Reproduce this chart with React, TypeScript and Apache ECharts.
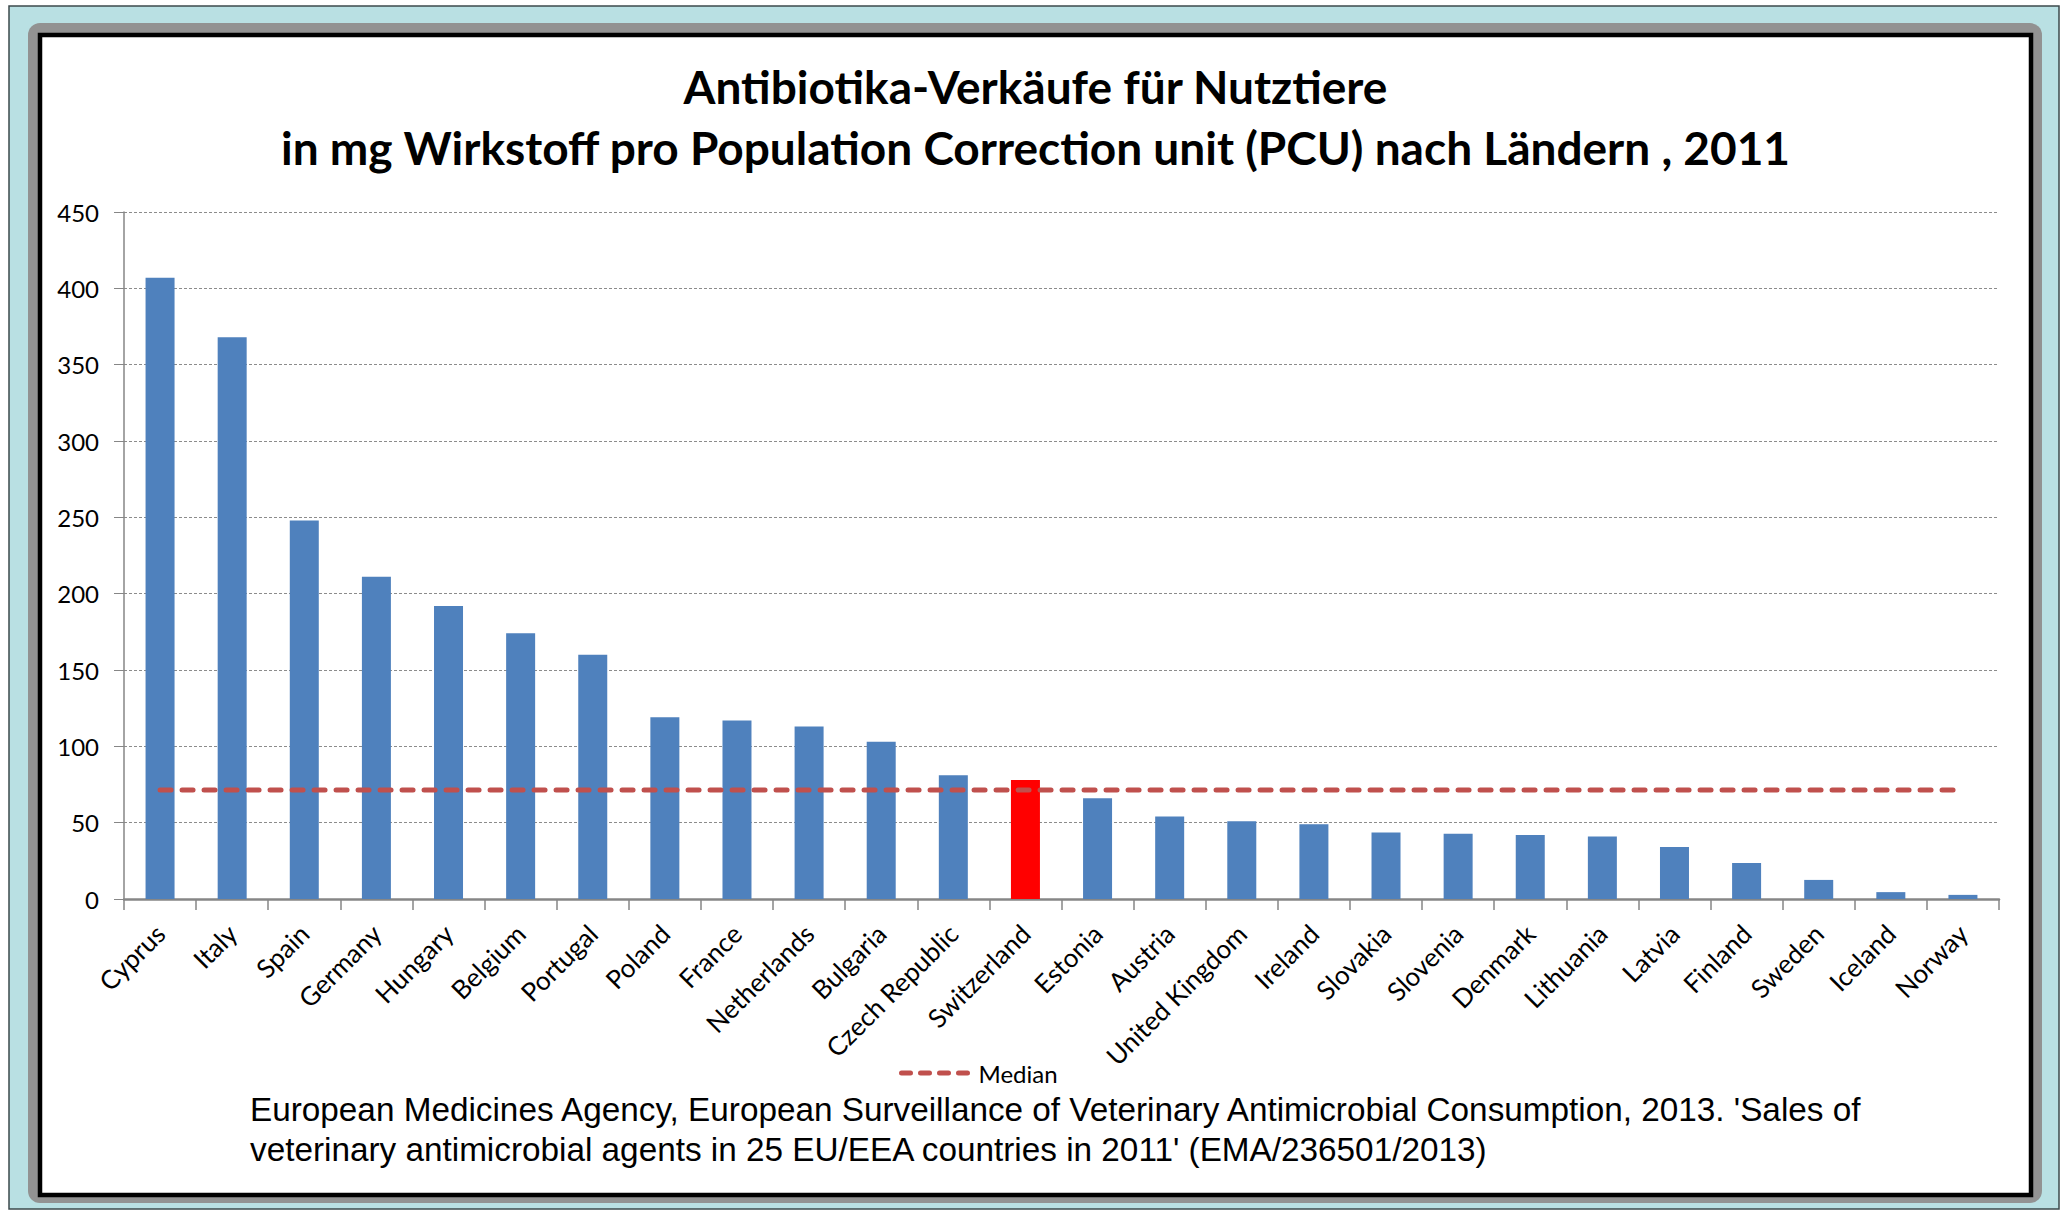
import React, { useEffect, useRef } from "react";
import * as echarts from "echarts";

const TITLE_LINE_1 = "Antibiotika-Verkäufe für Nutztiere";
const TITLE_LINE_2 = "in mg Wirkstoff pro Population Correction unit (PCU) nach Ländern , 2011";

const countries = [
  "Cyprus", "Italy", "Spain", "Germany", "Hungary", "Belgium", "Portugal",
  "Poland", "France", "Netherlands", "Bulgaria", "Czech Republic", "Switzerland",
  "Estonia", "Austria", "United Kingdom", "Ireland", "Slovakia", "Slovenia",
  "Denmark", "Lithuania", "Latvia", "Finland", "Sweden", "Iceland", "Norway",
];

const salesMgPerPcu = [
  407, 368, 248, 211, 192, 174, 160,
  119, 117, 113, 103, 81, 78,
  66, 54, 51, 49, 43.5, 42.8,
  42, 41, 34, 23.5, 12.5, 4.5, 2.7,
];

const HIGHLIGHT = "Switzerland";
const MEDIAN_LABEL = "Median";
const MEDIAN_VALUE = 71.4;
const medianLine = countries.map(() => MEDIAN_VALUE);

const yTicks = { min: 0, max: 450, interval: 50 };

const SOURCE_TEXT =
  "European Medicines Agency, European Surveillance of Veterinary Antimicrobial Consumption, 2013. 'Sales of\nveterinary antimicrobial agents in 25 EU/EEA countries in 2011' (EMA/236501/2013)";

const BLUE = "#4F81BD";
const RED = "#FF0000";
const MEDIAN_COLOR = "#C0504D";
const AXIS_GRAY = "#868686";

export default function App() {
  const ref = useRef<HTMLDivElement>(null);

  useEffect(() => {
    if (!ref.current) return;
    const chart = echarts.init(ref.current, undefined, { renderer: "svg" });

    const barData = countries.map((c, i) => ({
      value: salesMgPerPcu[i],
      itemStyle: { color: c === HIGHLIGHT ? RED : BLUE },
    }));

    const titleStyle = {
      fontFamily: "Lato",
      fontWeight: "bold",
      fontSize: 46,
      lineHeight: 48,
      color: "#000",
    };

    const option: any = {
      animation: false,
      backgroundColor: "#ffffff",
      title: [
        { text: TITLE_LINE_1, left: "center", top: 57, textStyle: titleStyle },
        { text: TITLE_LINE_2, left: "center", top: 118, textStyle: titleStyle },
      ],
      legend: {
        data: [MEDIAN_LABEL],
        left: 894,
        top: 1056,
        itemWidth: 72,
        itemHeight: 20,
        itemGap: 5,
        itemStyle: { opacity: 0, color: "rgba(0,0,0,0)", borderWidth: 0 },
        lineStyle: { color: MEDIAN_COLOR, width: 5, type: [9, 10], cap: "round" },
        textStyle: { fontFamily: "Lato", fontSize: 24, color: "#000" },
      },
      grid: { left: 124, right: 72, top: 212, bottom: 313, containLabel: false },
      xAxis: {
        type: "category",
        data: countries,
        boundaryGap: true,
        axisLine: { show: true, lineStyle: { color: AXIS_GRAY, width: 2.5 } },
        axisTick: { show: true, length: 11, alignWithLabel: false, lineStyle: { color: AXIS_GRAY, width: 1.5 } },
        axisLabel: {
          interval: 0,
          rotate: 45,
          margin: 30,
          fontFamily: "Lato",
          fontSize: 26,
          color: "#000",
        },
        splitLine: { show: false },
      },
      yAxis: {
        type: "value",
        min: yTicks.min,
        max: yTicks.max,
        interval: yTicks.interval,
        axisLine: { show: true, lineStyle: { color: AXIS_GRAY, width: 1.5 } },
        axisTick: { show: true, length: 10, lineStyle: { color: AXIS_GRAY } },
        axisLabel: { margin: 25, fontFamily: "Lato", fontSize: 24, color: "#000" },
        splitLine: { show: true, lineStyle: { color: "#8c8c8c", width: 1, type: [3, 2] } },
      },
      series: [
        {
          name: "Antibiotika",
          type: "bar",
          data: barData,
          barWidth: 29,
          z: 2,
        },
        {
          name: MEDIAN_LABEL,
          type: "line",
          data: medianLine,
          symbol: "none",
          showSymbol: false,
          lineStyle: { color: MEDIAN_COLOR, width: 5, type: [11, 11], cap: "round" },
          itemStyle: { color: MEDIAN_COLOR },
          z: 3,
        },
      ],
      graphic: [
        {
          type: "rect",
          z: -30,
          shape: { x: 9, y: 6, width: 2050, height: 1203 },
          style: { fill: "#B9E0E3", stroke: "#3c4a4c", lineWidth: 1.5 },
          silent: true,
        },
        {
          type: "rect",
          z: -20,
          shape: { x: 28, y: 23, width: 2014, height: 1180, r: 12 },
          style: { fill: "#929292" },
          silent: true,
        },
        {
          type: "rect",
          z: -10,
          shape: { x: 40, y: 35, width: 1991, height: 1160 },
          style: { fill: "#ffffff", stroke: "#000000", lineWidth: 4.5 },
          silent: true,
        },
        {
          type: "text",
          z: 10,
          x: 250,
          y: 1089,
          style: {
            text: SOURCE_TEXT,
            font: '33.3px "Liberation Sans", Arial, sans-serif',
            fill: "#000",
            lineHeight: 40,
            verticalAlign: "top",
            align: "left",
          },
        },
      ],
    };

    chart.setOption(option);
    return () => chart.dispose();
  }, []);

  return (
    <div
      ref={ref}
      style={{ position: "fixed", left: 0, top: 0, width: 2071, height: 1212 }}
    />
  );
}
